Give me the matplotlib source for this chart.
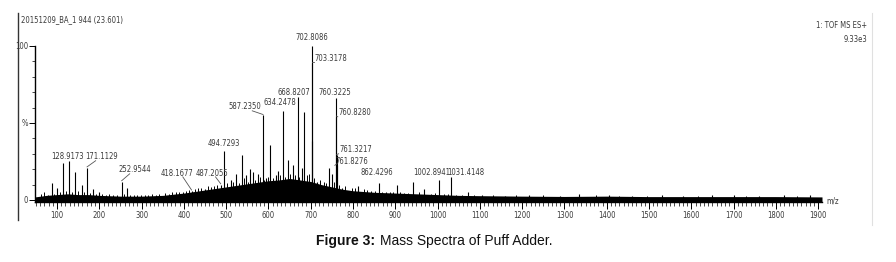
import matplotlib.pyplot as plt

# labelled peaks (m/z, relative intensity %)
label_mz = [128.9173, 171.1129, 252.9544, 418.1677, 487.2055, 494.7293,
            587.2350, 634.2478, 668.8207, 702.8086, 703.3178, 760.3225,
            760.8280, 761.3217, 761.8276, 862.4296, 1002.8941, 1031.4148]
label_pct = [25, 21, 12, 6, 10, 32, 55, 58, 67, 100, 89, 66, 54, 29, 23, 11, 13, 15]

# unlabelled peaks
other_mz = [87.5, 100, 115, 143, 158, 185, 200, 265, 450, 512, 523, 537, 548,
            557, 564, 575, 594, 604, 617, 622, 646, 657, 679, 685, 703.8, 714,
            743, 750, 775, 790, 812, 878, 903, 942, 968, 1072, 1105, 1160, 1215,
            1290, 1335, 1405, 1460, 1530, 1580, 1650, 1700, 1760, 1820, 1880]
other_pct = [11, 8, 24, 18, 10, 7, 5, 8, 7, 13, 17, 29, 16,
             20, 18, 17, 14, 36, 16, 19, 26, 23, 21, 57, 38, 12,
             21, 17, 8, 6, 9, 5, 10, 12, 7, 5, 3, 2.5, 3,
             2.5, 4, 3.5, 2.5, 3, 2.5, 3, 3, 2.5, 3, 3]

# small noise spikes
noise_spike_mz = [62, 70, 79, 93, 107, 121, 135, 150, 165, 178, 192, 207, 215,
                  224, 233, 241, 258, 272, 281, 290, 298, 307, 316, 325, 333,
                  341, 356, 364, 372, 381, 389, 397, 405, 412, 427, 434, 441,
                  457, 464, 471, 479, 503, 517, 530, 543, 552, 569, 581, 590,
                  598, 610, 627, 639, 651, 663, 673, 691, 697, 708, 722, 731,
                  737, 756, 766, 782, 797, 805, 826, 834, 843, 852, 869, 887,
                  895, 912, 921, 930, 955, 985, 993, 1015, 1024, 1044, 1058,
                  1085, 1130, 1185, 1250, 1375, 1430, 1495, 1615, 1730, 1850]
noise_spike_pct = [4, 5, 3.5, 4, 5, 6, 5, 6, 5, 4.5, 4, 4, 3.5,
                   4, 3.5, 3, 4, 3, 3.5, 3, 3.5, 3, 3.5, 4, 3.5,
                   4, 4.5, 4, 5, 5, 5.5, 5, 6, 6.5, 7, 7.5, 8,
                   9, 8.5, 9, 10, 11, 12, 11, 14, 12, 13, 15, 13,
                   15, 14, 16, 15, 17, 16, 15, 16, 17, 14, 13, 12,
                   11, 12, 10, 9, 8, 8, 7, 6.5, 6, 6, 5, 5,
                   5.5, 5, 4.5, 4.5, 5, 4, 4.5, 4, 4, 3.5, 3.5,
                   3.5, 3, 3, 3, 3, 2.8, 2.8, 2.6, 2.6, 2.6]

# baseline noise envelope
noise_mz = [48, 75, 100, 125, 150, 175, 200, 250, 300, 350, 400, 425, 450, 475,
            500, 525, 550, 575, 600, 625, 650, 675, 700, 725, 750, 775, 800,
            850, 900, 950, 1000, 1050, 1100, 1200, 1300, 1400, 1500, 1600,
            1700, 1800, 1909]
noise_pct = [2, 3, 3.5, 4, 3.5, 3.5, 3, 2.5, 2.5, 3, 4.5, 5.5, 6.5, 7.5,
             8.5, 9.5, 10.5, 11.5, 12.5, 13, 14, 13, 12, 10, 8.5, 7, 6,
             5, 4.5, 4, 3.5, 3, 2.8, 2.5, 2.3, 2.5, 2.2, 2.2,
             2.2, 2.2, 2]

x_ticks = list(range(100, 2000, 100))

small = dict(family='DejaVu Sans', stretch='condensed', fontsize=5.5)
txt_col = '#3a3a3a'

fig = plt.figure(figsize=(8.96, 2.62), dpi=100)
ax = fig.add_axes([35 / 896, 59.7 / 262, 787 / 896, 159.4 / 262])

ax.fill_between(noise_mz, -1.5, noise_pct, color='black', lw=0)
ax.vlines(noise_spike_mz, -1.5, noise_spike_pct, color='black', lw=0.7)
ax.vlines(other_mz, 0, other_pct, color='black', lw=0.8)
ax.vlines(label_mz, 0, label_pct, color='black', lw=0.8)

ax.set_xlim(48, 1909)
ax.set_ylim(-1.5, 102)

# label layout: (text x in m/z, text y in %, ha, leader)
layout = [
    (125.0, 28.5, 'center', False),
    (205.0, 28, 'center', True),
    (284.5, 19.5, 'center', True),
    (383.8, 17.5, 'center', True),
    (466.6, 17.5, 'center', True),
    (495.0, 37, 'center', False),
    (544.7, 60.4, 'center', True),
    (627.5, 63, 'center', False),
    (660.5, 70, 'center', False),
    (703.0, 105.8, 'center', False),
    (710.0, 92, 'left', True),
    (757.5, 70, 'center', False),
    (766.0, 56.5, 'left', True),
    (768.0, 32.5, 'left', True),
    (759.0, 25, 'left', True),
    (857.0, 18, 'center', False),
    (986.0, 18, 'center', False),
    (1066.0, 18, 'center', False),
]
for mz, pct, (tx, ty, ha, leader) in zip(label_mz, label_pct, layout):
    ax.text(tx, ty, f'{mz:.4f}', ha=ha, va='center', color=txt_col,
            clip_on=False, **small)
    if leader:
        lx = tx if ha == 'left' else tx + (mz - tx) * 0.4
        ax.plot([lx - 2 if ha == 'left' else lx, mz], [ty - 2.5, pct + 0.5],
                color='#555555', lw=0.6, clip_on=False)

for s in ['top', 'right']:
    ax.spines[s].set_visible(False)
ax.spines['left'].set_bounds(-1.5, 100)
ax.spines['left'].set_linewidth(1.0)
ax.spines['bottom'].set_linewidth(1.0)

ax.set_xticks(x_ticks)
ax.set_xticklabels([str(t) for t in x_ticks], color=txt_col, **small)
ax.set_xticks(range(50, 1910, 10), minor=True)
ax.tick_params(axis='x', which='major', length=5, width=0.7, pad=1.5)
ax.tick_params(axis='x', which='minor', length=3, width=0.5)

ax.set_yticks([0, 50, 100])
ax.set_yticklabels(['0', '%', '100'], color=txt_col, **small)
ax.set_yticks(range(10, 100, 10), minor=True)
ax.tick_params(axis='y', which='major', length=4, width=0.7, pad=1)
ax.tick_params(axis='y', which='minor', length=2, width=0.5)

fig.text(833 / 896, 1 - 201 / 262, 'm/z', ha='center', va='center',
         color=txt_col, **small)
fig.text(21 / 896, 1 - 20 / 262, '20151209_BA_1 944 (23.601)', ha='left',
         va='center', color=txt_col, **small)
fig.text(867 / 896, 1 - 25 / 262, '1: TOF MS ES+', ha='right', va='center',
         color=txt_col, **small)
fig.text(867 / 896, 1 - 40 / 262, '9.33e3', ha='right', va='center',
         color=txt_col, **small)

# image frame lines
fig.add_artist(plt.Line2D([18 / 896, 18 / 896], [1 - 13 / 262, 1 - 220 / 262],
                          color='#333333', lw=1.0))
fig.add_artist(plt.Line2D([872 / 896, 872 / 896], [1 - 13 / 262, 1 - 225 / 262],
                          color='#e0e0e0', lw=0.8))

fig.text(375 / 896, 1 - 241 / 262, 'Figure 3:', ha='right', va='center',
         fontsize=10, fontweight='bold', family='Liberation Sans', color='#111111')
fig.text(380 / 896, 1 - 241 / 262, 'Mass Spectra of Puff Adder.', ha='left',
         va='center', fontsize=10, family='Liberation Sans', color='#111111')

fig.savefig('out.png', dpi=100)
